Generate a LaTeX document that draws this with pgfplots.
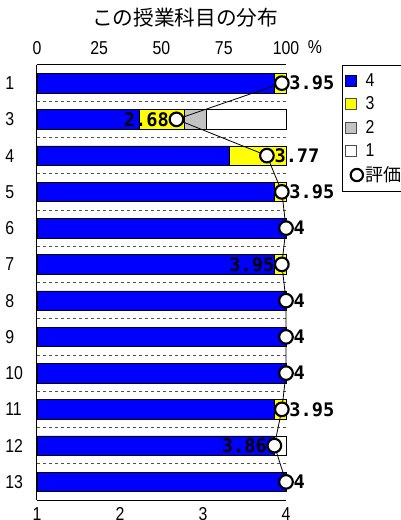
\documentclass[border=0pt]{standalone}
\usepackage{pgfplots}
\pgfplotsset{compat=1.18}
\usepackage{fontspec}
\setmainfont{Noto Sans CJK JP}
\newfontfamily\numfont[FakeStretch=0.85]{Liberation Sans}
\newfontfamily\valfont{DejaVu Sans Mono}
\definecolor{grade4}{RGB}{0,0,255}
\definecolor{grade3}{RGB}{255,255,0}
\definecolor{grade2}{RGB}{195,195,195}
\definecolor{grade1}{RGB}{255,255,255}
\definecolor{sepgray}{RGB}{80,80,80}

\pgfplotsset{
  sqlegend/.style={legend image code/.code={\draw[##1] (0pt,-4.1pt) rectangle (8.25pt,4.1pt);}},
  ratemark/.style={mark=*, mark size=5.1pt, mark options={fill=white, draw=black, line width=1.6pt}},
}

\begin{document}
\begin{tikzpicture}
% stacked distribution (percent scale, top axis)
\begin{axis}[
    at={(0,0)}, anchor=south west,
    scale only axis,
    width=186.75pt, height=326.25pt,
    xbar stacked, bar width=0.54,
    xmin=0, xmax=100, ymin=0.5, ymax=12.5,
    enlargelimits=false,
    y dir=reverse,
    axis x line*=top, axis y line*=left,
    axis line style={black, line width=0.75pt},
    xtick={0,25,50,75,100},
    ytick={1,...,12},
    yticklabels={1,3,4,5,6,7,8,9,10,11,12,13},
    minor ytick={1.5,2.5,...,11.5},
    yminorgrids=true,
    minor y grid style={sepgray, line width=0.5pt, dash pattern=on 2.25pt off 2.25pt},
    major tick length=0pt, minor tick length=0pt,
    /pgf/number format/assume math mode=true,
    tick label style={font=\numfont\fontsize{14}{16}\selectfont},
    xticklabel style={anchor=center, yshift=12.75pt},
    yticklabel style={anchor=west, xshift=-24pt, inner sep=0pt},
    every axis plot/.append style={draw=black, line width=0.5pt},
    clip=false,
]
\addplot[fill=grade4] coordinates {
  (95.45,1) (40.91,2) (77.27,3) (95.45,4) (100,5) (95.45,6)
  (100,7) (100,8) (100,9) (95.45,10) (95.45,11) (100,12)};
\addplot[fill=grade3] coordinates {
  (4.55,1) (18.18,2) (22.73,3) (4.55,4) (0,5) (4.55,6)
  (0,7) (0,8) (0,9) (4.55,10) (0,11) (0,12)};
\addplot[fill=grade2] coordinates {
  (0,1) (9.09,2) (0,3) (0,4) (0,5) (0,6)
  (0,7) (0,8) (0,9) (0,10) (0,11) (0,12)};
\addplot[fill=grade1] coordinates {
  (0,1) (31.82,2) (0,3) (0,4) (0,5) (0,6)
  (0,7) (0,8) (0,9) (0,10) (4.55,11) (0,12)};
\end{axis}

% mean rating (1-4 scale, bottom axis)
\begin{axis}[
    at={(0,0)}, anchor=south west,
    scale only axis,
    width=186.75pt, height=326.25pt,
    xmin=1, xmax=4, ymin=0.5, ymax=12.5,
    enlargelimits=false,
    y dir=reverse,
    axis x line*=bottom, hide y axis,
    axis line style={black, line width=0.75pt},
    xtick={1,2,3,4},
    major tick length=0pt,
    /pgf/number format/assume math mode=true,
    tick label style={font=\numfont\fontsize{14}{16}\selectfont},
    xticklabel style={anchor=center, yshift=-10.2pt},
    clip=false,
    legend style={at={(1.2249,1)}, anchor=north west, draw=black, line width=0.6pt,
      font=\numfont\fontsize{14}{15}\selectfont, inner xsep=2pt, inner ysep=4.2pt,
      row sep=2.2pt, cells={anchor=west}},
    legend cell align=left,
]
\addlegendimage{sqlegend, fill=grade4, draw=black}
\addlegendentry{4}
\addlegendimage{sqlegend, fill=grade3, draw=black!70}
\addlegendentry{3}
\addlegendimage{sqlegend, fill=grade2, draw=black!70}
\addlegendentry{2}
\addlegendimage{sqlegend, fill=grade1, draw=black!70}
\addlegendentry{1}
\addlegendimage{only marks, ratemark, mark size=4.6pt}
\addlegendentry{\rmfamily\fontsize{13.5}{15}\selectfont 評価}

\addplot[forget plot, black, line width=0.6pt, ratemark] coordinates {
  (3.95,1) (2.68,2) (3.77,3) (3.95,4) (4,5) (3.95,6)
  (4,7) (4,8) (4,9) (3.95,10) (3.86,11) (4,12)};
% value labels right of the marker
\addplot[forget plot, draw=none, mark=none, point meta=explicit symbolic,
  nodes near coords, nodes near coords style={anchor=west, xshift=5.5pt, inner sep=0pt,
  font=\valfont\bfseries\fontsize{14}{16}\selectfont}] coordinates {
  (3.95,1) [3.95] (3.77,3) [3.77] (3.95,4) [3.95] (4,5) [4]
  (4,7) [4] (4,8) [4] (4,9) [4] (3.95,10) [3.95] (4,12) [4]};
% value labels left of the marker
\addplot[forget plot, draw=none, mark=none, point meta=explicit symbolic,
  nodes near coords, nodes near coords style={anchor=east, xshift=-5.5pt, inner sep=0pt,
  font=\valfont\bfseries\fontsize{14}{16}\selectfont}] coordinates {
  (2.68,2) [2.68] (3.95,6) [3.95] (3.86,11) [3.86]};
\end{axis}

\node[font=\fontsize{15.5}{17}\selectfont] at (111pt,361.5pt) {この授業科目の分布};
\node[font=\numfont\fontsize{14}{16}\selectfont] at (208.5pt,339.75pt) {\%};

\pgfresetboundingbox
\path[use as bounding box] (-27.75pt,-15pt) rectangle (272.25pt,375pt);
\end{tikzpicture}
\end{document}
